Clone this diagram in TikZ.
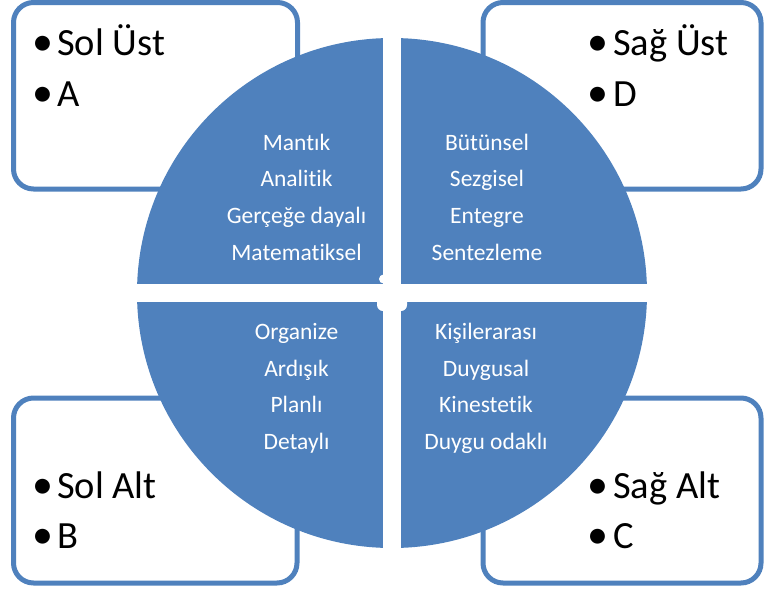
\documentclass[tikz,border=0pt]{standalone}
\usepackage{fontspec}
\setmainfont{Carlito}[Ligatures={NoCommon,NoRare}]
\definecolor{offblue}{HTML}{4F81BD}
\begin{document}
\begin{tikzpicture}[x=1pt,y=-1pt,
  cornerbox/.style={draw=offblue,line width=5pt,fill=white,rounded corners=20pt},
  bigtxt/.style={anchor=base west,inner sep=0pt,font=\fontsize{38.5}{46}\selectfont},
  bul/.style={anchor=base,inner sep=0pt,font=\fontsize{42}{46}\selectfont},
  smalltxt/.style={anchor=base,inner sep=0pt,text=white,font=\fontsize{23.5}{28}\selectfont}]
\useasboundingbox (0,0) rectangle (765,592);
% corner boxes
\draw[cornerbox] (13.5,2.5) rectangle (297.5,189);
\draw[cornerbox] (483,2.5) rectangle (761,189);
\draw[cornerbox] (13.5,398) rectangle (297,583);
\draw[cornerbox] (483,398) rectangle (761,583);
% circle
\fill[offblue] (392,293) circle[radius=255];
\fill[white] (383.3,30) rectangle (400.5,560);
\fill[white] (130,284) rectangle (655,302);
\fill[white] (383.5,279) circle[radius=4.5];
\fill[white,rounded corners=6pt] (377,294) rectangle (407,311);
% big labels
\node[bul] (b1) at (42.5,55.5) {•};
\node[bigtxt] (t1) at (57,55) {Sol Üst};
\node[bul] (b2) at (42.5,106.5) {•};
\node[bigtxt] (t2) at (57,106) {A};
\node[bul] (b3) at (598,55.5) {•};
\node[bigtxt] (t3) at (613,55) {Sağ Üst};
\node[bul] (b4) at (598,106.5) {•};
\node[bigtxt] (t4) at (613,106) {D};
\node[bul] (b5) at (42.5,498.5) {•};
\node[bigtxt] (t5) at (57,498) {Sol Alt};
\node[bul] (b6) at (42.5,548.5) {•};
\node[bigtxt] (t6) at (57,548) {B};
\node[bul] (b7) at (598,498.5) {•};
\node[bigtxt] (t7) at (613,498) {Sağ Alt};
\node[bul] (b8) at (598,548.5) {•};
\node[bigtxt] (t8) at (613,548) {C};
% quadrant texts
\foreach \t [count=\i] in {Mantık,Analitik,Gerçeğe dayalı,Matematiksel}
  \node[smalltxt] (ql\i) at (296.5,{150+36.67*(\i-1)}) {\t};
\foreach \t [count=\i] in {Bütünsel,Sezgisel,Entegre,Sentezleme}
  \node[smalltxt] (qr\i) at (487,{150+36.67*(\i-1)}) {\t};
\foreach \t [count=\i] in {Organize,Ardışık,Planlı,Detaylı}
  \node[smalltxt] (bl\i) at (296.5,{339.5+36.6*(\i-1)}) {\t};
\foreach \t [count=\i] in {Kişilerarası,Duygusal,Kinestetik,Duygu odaklı}
  \node[smalltxt] (br\i) at (486,{339.5+36.6*(\i-1)}) {\t};
\end{tikzpicture}
\end{document}
